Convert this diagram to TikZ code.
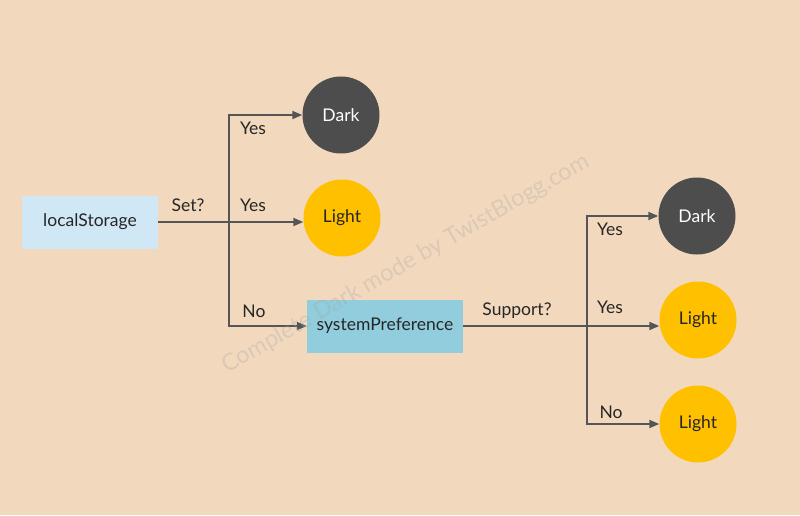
\documentclass[tikz,border=0pt]{standalone}
\usepackage{fontspec}
\setmainfont{Lato}
\usepackage{tikz}
\usetikzlibrary{shapes, positioning, arrows.meta}

\definecolor{bgpeach}{RGB}{242,217,190}
\definecolor{lsblue}{RGB}{208,232,246}
\definecolor{spblue}{RGB}{146,205,221}
\definecolor{darkgrey}{RGB}{77,77,77}
\definecolor{lightyellow}{RGB}{255,192,0}
\definecolor{linegrey}{RGB}{85,85,85}
\definecolor{markgrey}{RGB}{165,165,165}

\begin{document}
\begin{tikzpicture}[
                x=1pt, y=1pt,
                box/.style={rectangle, minimum height=53pt, align=center, inner sep=4pt, font=\fontsize{17.5}{20}\selectfont, text=black!85},
                source/.style={box, fill=lsblue, minimum width=136pt},
                pref/.style={box, fill=spblue, minimum width=156pt},
                mode/.style={circle, minimum size=77pt, inner sep=0pt, font=\fontsize{17.5}{20}\selectfont},
                darkmode/.style={mode, fill=darkgrey, text=white},
                lightmode/.style={mode, fill=lightyellow, text=black!85},
                arr/.style={draw=linegrey, line width=1.8pt, -{Triangle[length=10pt, width=8pt]}},
                link/.style={draw=linegrey, line width=1.8pt},
                lbl/.style={font=\fontsize{17.5}{20}\selectfont, text=black!85, inner sep=1pt}
            ]

            % background and page size
            \fill[bgpeach] (0,0) rectangle (800,515);
            \useasboundingbox (0,0) rectangle (800,515);

            % first decision
            \node[source] (storage) at (90,293) {localStorage};
            \node[darkmode] (dark1) at (341,400) {Dark};
            \node[lightmode] (light1) at (342,297) {Light};
            \node[pref] (syspref) at (385,189) {systemPreference};
            \coordinate (split1) at (229,293);

            \draw[link] (storage.east) -- (split1);
            \draw[arr] (split1) -- (split1 -| light1.west);
            \draw[arr] (split1) |- (dark1.west);
            \draw[arr] (split1) |- (syspref.west);

            \node[lbl] (setq) at (188,310) {Set?};
            \node[lbl] (yes1) at (253,387) {Yes};
            \node[lbl] (yes2) at (253,310) {Yes};
            \node[lbl] (no1) at (254,204) {No};

            % second decision
            \node[darkmode] (dark2) at (697,299) {Dark};
            \node[lightmode] (light2) at (698,195) {Light};
            \node[lightmode] (light3) at (698,91) {Light};
            \coordinate (split2) at (587,189);

            \draw[link] (syspref.east) -- (split2);
            \draw[arr] (split2) -- (split2 -| light2.west);
            \draw[arr] (split2) |- (dark2.west);
            \draw[arr] (split2) |- (light3.west);

            \node[lbl] (supq) at (517,204) {Support?};
            \node[lbl] (yes3) at (610,286) {Yes};
            \node[lbl] (yes4) at (610,208) {Yes};
            \node[lbl] (no2) at (611,103) {No};

            % watermark on top
            \node[rotate=29.7, font=\fontsize{23.5}{26}\selectfont, text=markgrey, text opacity=0.3] (mark) at (406,251) {Complete Dark mode by TwistBlogg.com};
        \end{tikzpicture}
\end{document}
